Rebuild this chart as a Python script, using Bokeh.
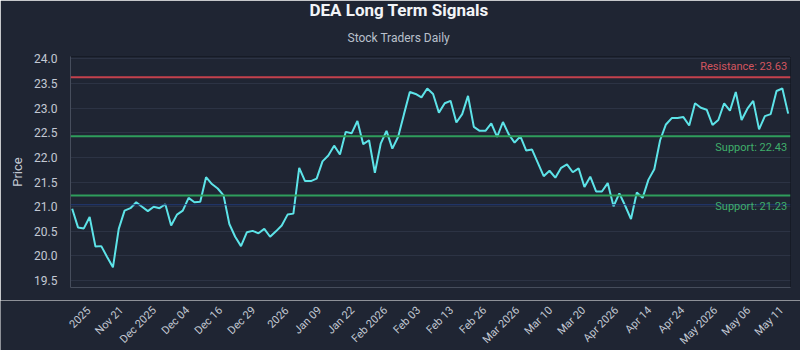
import numpy as np
from bokeh.plotting import figure
from bokeh.layouts import column
from bokeh.models import (FixedTicker, Span, Label, Title, LinearAxis,
                          NumeralTickFormatter, Range1d)
from bokeh.core.properties import value
from bokeh.embed import file_html
from bokeh.resources import INLINE

# ---------------- data ----------------
title_text = "DEA Long Term Signals"
subtitle_text = "Stock Traders Daily"

prices = [
    20.96, 20.58, 20.56, 20.79, 20.19, 20.20, 19.98, 19.77, 20.55, 20.92,
    20.97, 21.09, 21.00, 20.91, 21.00, 20.97, 21.05, 20.62, 20.84, 20.92,
    21.18, 21.09, 21.10, 21.60, 21.46, 21.37, 21.23, 20.65, 20.39, 20.20,
    20.48, 20.51, 20.46, 20.55, 20.39, 20.50, 20.62, 20.84, 20.86, 21.79,
    21.52, 21.52, 21.57, 21.92, 22.04, 22.24, 22.06, 22.52, 22.49, 22.74,
    22.27, 22.35, 21.69, 22.28, 22.54, 22.18, 22.42, 22.88, 23.33, 23.29,
    23.22, 23.40, 23.29, 22.91, 23.10, 23.15, 22.71, 22.88, 23.25, 22.62,
    22.54, 22.54, 22.69, 22.42, 22.72, 22.47, 22.30, 22.43, 22.14, 22.16,
    21.89, 21.62, 21.73, 21.59, 21.79, 21.86, 21.70, 21.78, 21.40, 21.61,
    21.31, 21.31, 21.48, 21.01, 21.27, 21.02, 20.75, 21.29, 21.18, 21.55,
    21.76, 22.35, 22.67, 22.80, 22.80, 22.82, 22.65, 23.10, 23.01, 22.97,
    22.66, 22.76, 23.10, 22.95, 23.33, 22.76, 22.99, 23.15, 22.57, 22.84,
    22.88, 23.35, 23.40, 22.89,
]

tick_labels = ["2025", "Nov 21", "Dec 2025", "Dec 04", "Dec 16", "Dec 29",
               "2026", "Jan 09", "Jan 22", "Feb 2026", "Feb 03", "Feb 13",
               "Feb 26", "Mar 2026", "Mar 10", "Mar 20", "Apr 2026", "Apr 14",
               "Apr 24", "May 2026", "May 06", "May 11"]

y_ticks = [19.5, 20.0, 20.5, 21.0, 21.5, 22.0, 22.5, 23.0, 23.5, 24.0]

resistance = 23.63
supports = [22.43, 21.23]
base_level = 21.04

# ---------------- style ----------------
BG = "#1f2533"
GRID = "#2c3344"
AXIS = "#464d5c"
TXT = "#c3c9d4"
LINE = "#5de3e8"
RED = "#c4414d"
RED_TXT = "#d2555f"
GREEN = "#2f9e5c"
GREEN_TXT = "#3fae6b"
NAVY = "#223a78"
FONT = "Roboto"

W, BL, BR = 800, 70, 10          # canvas width, left / right borders
x = list(range(len(prices)))
tick_pos = [round(float(v), 4) for v in np.linspace(2.8, 121.9, len(tick_labels))]

X0, X1 = -0.29, len(prices) - 1 + 0.4
Y0, Y1 = 19.36, 24.05

p = figure(width=W, height=300, output_backend="svg", toolbar_location=None,
           x_range=Range1d(X0, X1), y_range=Range1d(Y0, Y1),
           min_border_left=BL, min_border_right=BR,
           min_border_top=56, min_border_bottom=13)

p.background_fill_color = BG
p.border_fill_color = BG
p.outline_line_color = "#161b26"

# titles (left aligned with pixel offsets so they are centred on the canvas)
p.add_layout(Title(text=subtitle_text, align="left", offset=277,
                   text_font=FONT, text_font_size="12px",
                   text_font_style="normal", text_color="#b9c0cc",
                   standoff=23), "above")
p.add_layout(Title(text=title_text, align="left", offset=239,
                   text_font=FONT, text_font_size="17px",
                   text_font_style="bold", text_color="#f2f4f7",
                   standoff=-5), "above")

# grid
p.xgrid.visible = False
p.ygrid.grid_line_color = GRID
p.ygrid.grid_line_width = 1

# y axis
p.yaxis.ticker = FixedTicker(ticks=y_ticks)
p.yaxis.formatter = NumeralTickFormatter(format="0.0")
p.yaxis.axis_label = "Price"
p.yaxis.axis_label_text_font = FONT
p.yaxis.axis_label_text_font_size = "13px"
p.yaxis.axis_label_text_font_style = "normal"
p.yaxis.axis_label_text_color = TXT
p.yaxis.axis_label_standoff = 6
p.yaxis.major_label_standoff = 7
p.yaxis.major_label_text_font = FONT
p.yaxis.major_label_text_font_size = "12px"
p.yaxis.major_label_text_color = TXT

# x axis: only the line here; the date labels sit in the strip below
p.xaxis.ticker = FixedTicker(ticks=[])
p.xaxis.major_tick_out = 0
p.xaxis.major_label_standoff = 0

for ax in (p.xaxis, p.yaxis):
    ax.axis_line_color = AXIS
    ax.axis_line_width = 1
    ax.major_tick_line_color = None
    ax.minor_tick_line_color = None


def spacer():
    # empty axis used only to push the real axis 10px away from the panel
    return LinearAxis(ticker=FixedTicker(ticks=[]), axis_line_color=None,
                      major_tick_line_color=None, minor_tick_line_color=None,
                      major_tick_in=0, major_tick_out=10,
                      major_label_standoff=0)


p.left = [spacer()] + list(p.left)
p.below = [spacer()] + list(p.below)

# reference lines
p.add_layout(Span(location=base_level, dimension="width",
                  line_color=NAVY, line_width=1))
p.add_layout(Span(location=resistance, dimension="width",
                  line_color=RED, line_width=2))
for s in supports:
    p.add_layout(Span(location=s, dimension="width",
                      line_color=GREEN, line_width=2))

# price line
p.line(x, prices, line_color=LINE, line_width=2)

# level labels
last = len(prices) - 1
p.add_layout(Label(x=last, y=resistance, text=f"Resistance: {resistance:.2f}",
                   text_align="right", text_baseline="bottom",
                   x_offset=-1, y_offset=4,
                   text_font=FONT, text_font_size="11px",
                   text_color=RED_TXT))
for s in supports:
    p.add_layout(Label(x=last, y=s, text=f"Support: {s:.2f}",
                       text_align="right", text_baseline="top",
                       x_offset=-1, y_offset=-5,
                       text_font=FONT, text_font_size="11px",
                       text_color=GREEN_TXT))

# ---------------- date label strip (same x scale, full-width frame) ----------
STRIP_H = 50
LABEL_Y = 42  # px from strip bottom where each label's end is anchored
ppx = (W - BL - BR) / (X1 - X0)
p2 = figure(width=W, height=STRIP_H, output_backend="svg",
            toolbar_location=None,
            x_range=Range1d(X0 - BL / ppx, X1 + BR / ppx),
            y_range=Range1d(0, STRIP_H),
            x_axis_location=None, y_axis_location=None,
            min_border=0)
p2.frame_align = False
p2.background_fill_color = BG
p2.border_fill_color = BG
p2.outline_line_color = None
p2.grid.visible = False
p2.text(x=tick_pos, y=[LABEL_Y] * len(tick_pos), text=tick_labels,
        angle=np.pi / 4, text_align="right", text_baseline="middle",
        text_font=value(FONT), text_font_size="11px", text_color=TXT)

layout = column(p, p2, spacing=0)
open("out.html", "w").write(file_html(layout, INLINE))
